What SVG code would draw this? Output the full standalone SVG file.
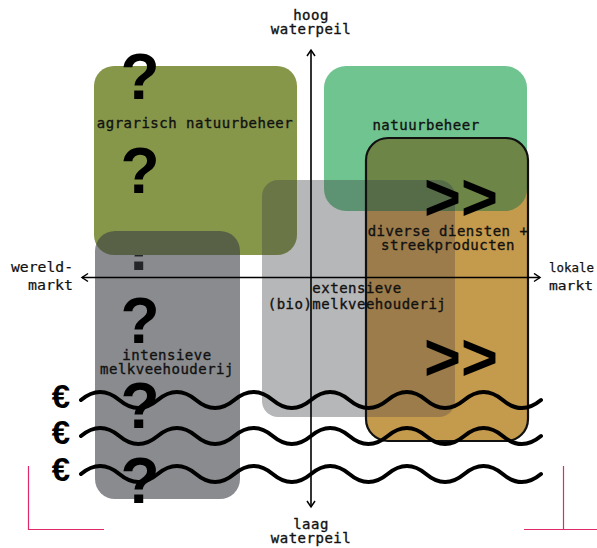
<svg xmlns="http://www.w3.org/2000/svg" width="597" height="548" viewBox="0 0 597 548">
<style>
.lbl{font-family:"DejaVu Sans Mono","Liberation Mono",monospace;font-size:14px;letter-spacing:0.5px;fill:#111;stroke:#111;stroke-width:0.35;text-anchor:middle}
.ax{font-family:"DejaVu Sans Mono","Liberation Mono",monospace;font-size:14px;fill:#111;stroke:#111;stroke-width:0.2}
.axr{font-family:"DejaVu Sans Mono","Liberation Mono",monospace;font-size:13px;fill:#111;stroke:#111;stroke-width:0.25}
.q{font-family:"Liberation Sans",Arial,sans-serif;font-weight:bold;font-size:64px;text-anchor:middle;fill:#000}
.eur{font-family:"Liberation Sans",Arial,sans-serif;font-weight:bold;font-size:33px;text-anchor:middle;fill:#000}
.gt{font-family:"Liberation Sans",Arial,sans-serif;font-weight:bold;font-size:66px;fill:#000}
.wave{fill:none;stroke:#000;stroke-width:4;stroke-linecap:round}
.axis{stroke:#000;stroke-width:1.6;fill:none}
.pink{stroke:#E0286A;stroke-width:1.2;fill:none}
</style>
<defs>
<marker id="arr" markerUnits="userSpaceOnUse" markerWidth="12" markerHeight="12" refX="7" refY="5" orient="auto-start-reverse">
<path d="M1,1 L7,5 L1,9" fill="none" stroke="#000" stroke-width="1.5"/>
</marker>
<clipPath id="clipOrange"><rect x="366" y="138" width="162" height="303" rx="22"/></clipPath>
<clipPath id="clipGreen"><rect x="324" y="66" width="203" height="145" rx="22"/></clipPath>
<clipPath id="clipQ3"><rect x="100" y="255" width="80" height="30"/></clipPath>
</defs>

<g id="q3" clip-path="url(#clipQ3)"><text class="q" x="140" y="270">?</text></g>

<g id="agrarisch">
<rect x="94" y="66" width="203" height="189" rx="20" fill="#86974A"/>
<text class="lbl" x="195" y="128">agrarisch natuurbeheer</text>
</g>

<g id="natuurbeheer">
<rect x="324" y="66" width="203" height="145" rx="22" fill="#70C490"/>
<text class="lbl" x="426" y="130">natuurbeheer</text>
</g>

<g id="extensief">
<rect x="262" y="180" width="193" height="237" rx="16" fill="#404245" fill-opacity="0.38"/>
</g>

<g id="intensief">
<rect x="95" y="231" width="145" height="268" rx="20" fill="#3B3D42" fill-opacity="0.6"/>
<text class="lbl" x="167" y="360">intensieve</text>
<text class="lbl" x="167" y="374">melkveehouderij</text>
</g>

<g id="diensten">
<rect x="366" y="138" width="162" height="303" rx="22" fill="#C49A4C"/>
<g clip-path="url(#clipOrange)">
<rect x="262" y="180" width="193" height="237" rx="16" fill="#9C7C4A"/>
<rect x="324" y="66" width="203" height="145" rx="22" fill="#6E8548"/>
<g clip-path="url(#clipGreen)"><rect x="262" y="180" width="193" height="237" rx="16" fill="#566C48"/></g>
</g>
<rect x="366" y="138" width="162" height="303" rx="22" fill="none" stroke="#111" stroke-width="2.2"/>
<text class="gt" x="424" y="220" textLength="74" lengthAdjust="spacingAndGlyphs">&gt;&gt;</text>
<text class="gt" x="424" y="380" textLength="74" lengthAdjust="spacingAndGlyphs">&gt;&gt;</text>
<text class="lbl" x="448" y="236">diverse diensten +</text>
<text class="lbl" x="448" y="250">streekproducten</text>
</g>

<g id="extensief-label">
<text class="lbl" x="357" y="293">extensieve</text>
<text class="lbl" x="357" y="309">(bio)melkveehouderij</text>
</g>

<g id="questions">
<text class="q" x="140" y="99">?</text>
<text class="q" x="140" y="193">?</text>
<text class="q" x="140" y="343">?</text>
<text class="q" x="140" y="428">?</text>
<text class="q" x="140" y="503">?</text>
</g>

<g id="connectors">
<line class="axis" x1="311" y1="507" x2="311" y2="50" marker-start="url(#arr)" marker-end="url(#arr)"/>
<line class="axis" x1="82" y1="277.5" x2="540" y2="277.5" marker-start="url(#arr)" marker-end="url(#arr)"/>
</g>

<g id="axis-labels">
<text class="lbl" x="311" y="20">hoog</text>
<text class="lbl" x="311" y="34">waterpeil</text>
<text class="lbl" x="311" y="529">laag</text>
<text class="lbl" x="311" y="543">waterpeil</text>
<text class="ax" x="73" y="272" text-anchor="end" textLength="62" lengthAdjust="spacingAndGlyphs">wereld-</text>
<text class="ax" x="73" y="290" text-anchor="end" textLength="45" lengthAdjust="spacingAndGlyphs">markt</text>
<text class="axr" x="549" y="272" textLength="45" lengthAdjust="spacingAndGlyphs">lokale</text>
<text class="axr" x="549" y="290" textLength="44" lengthAdjust="spacingAndGlyphs">markt</text>
</g>

<g id="waves">
<path class="wave" d="M81,400 Q100.2,384 119.3,400 T157.7,400 T196,400 T234.3,400 T272.7,400 T311,400 T349.3,400 T387.7,400 T426,400 T464.3,400 T502.7,400 T541,400"/>
<path class="wave" d="M81,436 Q100.2,420 119.3,436 T157.7,436 T196,436 T234.3,436 T272.7,436 T311,436 T349.3,436 T387.7,436 T426,436 T464.3,436 T502.7,436 T541,436"/>
<path class="wave" d="M81,474 Q100.2,458 119.3,474 T157.7,474 T196,474 T234.3,474 T272.7,474 T311,474 T349.3,474 T387.7,474 T426,474 T464.3,474 T502.7,474 T541,474"/>
<text class="eur" x="61" y="408">€</text>
<text class="eur" x="61" y="444">€</text>
<text class="eur" x="61" y="481">€</text>
</g>

<g id="marks">
<path class="pink" d="M28.5,466 V529.5 H104"/>
<path class="pink" d="M563.5,466 V529.5 M524,529.5 H597"/>
</g>
</svg>
